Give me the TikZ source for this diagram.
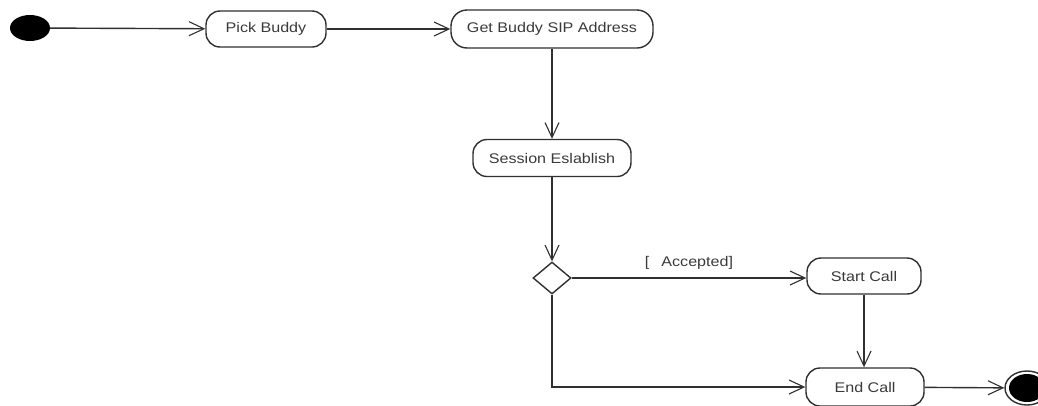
\documentclass[tikz,border=0pt]{standalone}
\usepackage{fontspec}
\setmainfont{Liberation Sans}[FakeStretch=1.15]
\usetikzlibrary{arrows.meta,shapes.geometric}
\definecolor{ink}{HTML}{303030}
\definecolor{txt}{HTML}{3A3A3A}
\begin{document}
\begin{tikzpicture}[x=1pt,y=-1pt,
  activity/.style={draw=ink,line width=1.4pt,rounded corners=14pt,fill=white,
    minimum height=36pt,inner sep=0pt,text=txt,font=\fontsize{14}{16}\selectfont},
  flow/.style={draw=ink,line width=1.4pt,-{Straight Barb[length=15pt,width=14pt,line width=1.1pt]}},
  decision/.style={draw=ink,line width=1.4pt,diamond,aspect=1.2,minimum width=38pt,
    minimum height=32pt,inner sep=0pt,fill=white},
  guard/.style={text=txt,font=\fontsize{14}{16}\selectfont}]
  \useasboundingbox (0,0) rectangle (1038,405);

  % start and end markers
  \node[ellipse,fill=black,minimum width=40pt,minimum height=26pt,inner sep=0pt] (init) at (30,28) {};
  \node[ellipse,draw=ink,line width=1.4pt,fill=white,minimum width=44pt,minimum height=34pt,inner sep=0pt] (final) at (1027,388) {};
  \node[ellipse,fill=black,minimum width=36pt,minimum height=28pt,inner sep=0pt] (finalcore) at (1027,388) {};

  % activities
  \node[activity,minimum width=120pt] (pick) at (266,29) {Pick Buddy};
  \node[activity,minimum width=202pt,minimum height=38pt,rounded corners=16pt] (sip) at (552,29) {Get Buddy SIP Address};
  \node[activity,minimum width=158pt,minimum height=37pt] (sess) at (552,158) {Session Eslablish};
  \node[decision] (dec) at (552,278) {};
  \node[activity,minimum width=114pt] (startc) at (864,276) {Start Call};
  \node[activity,minimum width=118pt,minimum height=38pt] (endc) at (865,387) {End Call};

  % control flows
  \draw[flow] (init) -- (pick);
  \draw[flow] (pick) -- (sip);
  \draw[flow] (sip) -- (sess);
  \draw[flow] (sess) -- (dec);
  \draw[flow] (dec.east) -- node[guard,above=5pt,pos=0.5] {[\hspace{12pt}Accepted]} (dec.east -| startc.west);
  \draw[flow] (startc) -- (startc.south |- endc.north);
  \draw[flow] (dec.south) |- (endc.west);
  \draw[flow] (endc) -- (final);
\end{tikzpicture}
\end{document}
